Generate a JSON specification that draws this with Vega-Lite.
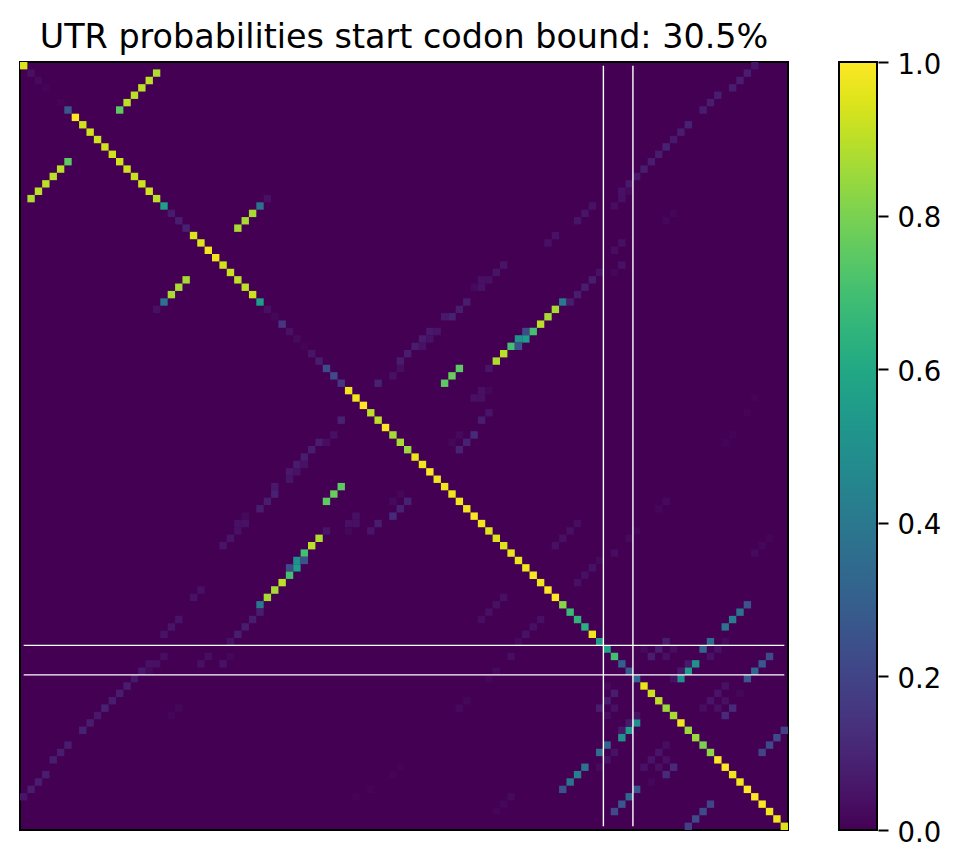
{"$schema":"https://vega.github.io/schema/vega-lite/v6.json","width":768,"height":768,"autosize":"none","padding":{"left":20,"top":62,"right":173,"bottom":37},"background":"white","title":{"text":"UTR probabilities start codon bound: 30.5%","font":"DejaVu Sans","fontSize":33.4,"fontWeight":"normal","color":"black","anchor":"middle","offset":-4},"config":{"view":{"fill":"#440154","stroke":"black","strokeWidth":2}},"datasets":{"cells":[
{"x":0,"y":0,"p":0.95},{"x":1,"y":1,"p":0.04},{"x":2,"y":2,"p":0.022},{"x":3,"y":3,"p":0.007},{"x":5,"y":5,"p":0.007},{"x":6,"y":6,"p":0.27},{"x":7,"y":7,"p":1},{"x":8,"y":8,"p":0.93},{"x":9,"y":9,"p":0.93},{"x":10,"y":10,"p":0.93},{"x":11,"y":11,"p":0.93},{"x":12,"y":12,"p":0.93},{"x":13,"y":13,"p":0.93},{"x":14,"y":14,"p":0.93},{"x":15,"y":15,"p":0.92},{"x":16,"y":16,"p":0.93},{"x":17,"y":17,"p":0.93},{"x":18,"y":18,"p":0.9},{"x":19,"y":19,"p":0.57},{"x":20,"y":20,"p":0.07},{"x":21,"y":21,"p":0.075},{"x":22,"y":22,"p":0.09},{"x":23,"y":23,"p":0.95},{"x":24,"y":24,"p":0.95},{"x":25,"y":25,"p":0.98},{"x":26,"y":26,"p":0.98},{"x":27,"y":27,"p":0.93},{"x":28,"y":28,"p":0.92},{"x":29,"y":29,"p":0.9},{"x":30,"y":30,"p":0.9},{"x":31,"y":31,"p":0.92},{"x":32,"y":32,"p":0.55},{"x":33,"y":33,"p":0.04},{"x":34,"y":34,"p":0.015},{"x":35,"y":35,"p":0.15},{"x":36,"y":36,"p":0.04},{"x":37,"y":37,"p":0.022},{"x":38,"y":38,"p":0.007},{"x":39,"y":39,"p":0.05},{"x":40,"y":40,"p":0.075},{"x":41,"y":41,"p":0.22},{"x":42,"y":42,"p":0.22},{"x":43,"y":43,"p":0.15},{"x":44,"y":44,"p":0.98},{"x":45,"y":45,"p":0.98},{"x":46,"y":46,"p":1},{"x":47,"y":47,"p":0.9},{"x":48,"y":48,"p":0.9},{"x":49,"y":49,"p":1},{"x":50,"y":50,"p":0.87},{"x":51,"y":51,"p":0.87},{"x":52,"y":52,"p":0.85},{"x":53,"y":53,"p":0.97},{"x":54,"y":54,"p":0.98},{"x":55,"y":55,"p":1},{"x":56,"y":56,"p":0.98},{"x":57,"y":57,"p":0.98},{"x":58,"y":58,"p":0.98},{"x":59,"y":59,"p":0.98},{"x":60,"y":60,"p":0.98},{"x":61,"y":61,"p":1},{"x":62,"y":62,"p":0.98},{"x":63,"y":63,"p":0.95},{"x":64,"y":64,"p":0.95},{"x":65,"y":65,"p":0.95},{"x":66,"y":66,"p":0.97},{"x":67,"y":67,"p":0.97},{"x":68,"y":68,"p":0.98},{"x":69,"y":69,"p":0.99},{"x":70,"y":70,"p":0.98},{"x":71,"y":71,"p":1},{"x":72,"y":72,"p":1},{"x":73,"y":73,"p":0.82},{"x":74,"y":74,"p":0.68},{"x":75,"y":75,"p":0.65},{"x":76,"y":76,"p":0.63},{"x":77,"y":77,"p":0.98},{"x":78,"y":78,"p":0.55},{"x":79,"y":79,"p":0.58},{"x":80,"y":80,"p":0.7},{"x":81,"y":81,"p":0.3},{"x":82,"y":82,"p":0.28},{"x":83,"y":83,"p":0.33},{"x":84,"y":84,"p":0.97},{"x":85,"y":85,"p":0.92},{"x":86,"y":86,"p":0.9},{"x":87,"y":87,"p":0.85},{"x":88,"y":88,"p":0.87},{"x":89,"y":89,"p":0.98},{"x":90,"y":90,"p":0.85},{"x":91,"y":91,"p":0.85},{"x":92,"y":92,"p":0.8},{"x":93,"y":93,"p":0.83},{"x":94,"y":94,"p":1},{"x":95,"y":95,"p":1},{"x":96,"y":96,"p":0.98},{"x":97,"y":97,"p":0.98},{"x":98,"y":98,"p":1},{"x":99,"y":99,"p":1},{"x":100,"y":100,"p":1},{"x":101,"y":101,"p":0.98},{"x":102,"y":102,"p":0.98},{"x":103,"y":103,"p":0.95},
{"x":18,"y":1,"p":0.88},{"x":17,"y":2,"p":0.9},{"x":16,"y":3,"p":0.9},{"x":15,"y":4,"p":0.9},{"x":14,"y":5,"p":0.9},{"x":13,"y":6,"p":0.75},{"x":33,"y":18,"p":0.04},{"x":32,"y":19,"p":0.37},{"x":31,"y":20,"p":0.87},{"x":30,"y":21,"p":0.87},{"x":29,"y":22,"p":0.87},{"x":65,"y":27,"p":0.05},{"x":64,"y":28,"p":0.05},{"x":63,"y":29,"p":0.04},{"x":62,"y":29,"p":0.04},{"x":62,"y":30,"p":0.045},{"x":61,"y":30,"p":0.022},{"x":60,"y":32,"p":0.075},{"x":59,"y":33,"p":0.075},{"x":57,"y":34,"p":0.06},{"x":58,"y":34,"p":0.09},{"x":68,"y":36,"p":0.22},{"x":68,"y":37,"p":0.55},{"x":67,"y":37,"p":0.5},{"x":66,"y":38,"p":0.7},{"x":67,"y":38,"p":0.25},{"x":65,"y":39,"p":0.9},{"x":64,"y":40,"p":0.88},{"x":63,"y":41,"p":0.05},{"x":59,"y":41,"p":0.75},{"x":58,"y":42,"p":0.77},{"x":57,"y":43,"p":0.75},{"x":56,"y":36,"p":0.05},{"x":55,"y":36,"p":0.06},{"x":55,"y":37,"p":0.045},{"x":54,"y":37,"p":0.07},{"x":54,"y":38,"p":0.045},{"x":53,"y":38,"p":0.075},{"x":52,"y":39,"p":0.075},{"x":51,"y":40,"p":0.075},{"x":51,"y":41,"p":0.03},{"x":50,"y":42,"p":0.04},{"x":48,"y":43,"p":0.09},{"x":62,"y":44,"p":0.04},{"x":63,"y":44,"p":0.015},{"x":61,"y":45,"p":0.04},{"x":62,"y":45,"p":0.04},{"x":63,"y":47,"p":0.05},{"x":62,"y":48,"p":0.075},{"x":61,"y":50,"p":0.12},{"x":59,"y":50,"p":0.022},{"x":60,"y":51,"p":0.09},{"x":59,"y":52,"p":0.09},{"x":58,"y":51,"p":0.015},{"x":72,"y":33,"p":0.87},{"x":71,"y":34,"p":0.87},{"x":70,"y":35,"p":0.9},{"x":69,"y":36,"p":0.7},{"x":73,"y":32,"p":0.4},{"x":74,"y":32,"p":0.075},{"x":75,"y":31,"p":0.075},{"x":76,"y":30,"p":0.075},{"x":77,"y":29,"p":0.075},{"x":78,"y":28,"p":0.045},{"x":80,"y":28,"p":0.015},{"x":81,"y":27,"p":0.045},{"x":80,"y":25,"p":0.03},{"x":81,"y":24,"p":0.04},{"x":71,"y":24,"p":0.04},{"x":72,"y":23,"p":0.045},{"x":75,"y":21,"p":0.05},{"x":76,"y":20,"p":0.05},{"x":77,"y":19,"p":0.045},{"x":80,"y":19,"p":0.03},{"x":81,"y":18,"p":0.04},{"x":81,"y":17,"p":0.045},{"x":82,"y":17,"p":0.022},{"x":82,"y":16,"p":0.06},{"x":83,"y":15,"p":0.06},{"x":84,"y":14,"p":0.075},{"x":85,"y":13,"p":0.075},{"x":86,"y":12,"p":0.075},{"x":87,"y":11,"p":0.09},{"x":88,"y":10,"p":0.06},{"x":89,"y":9,"p":0.075},{"x":90,"y":8,"p":0.09},{"x":92,"y":6,"p":0.075},{"x":93,"y":5,"p":0.075},{"x":94,"y":4,"p":0.075},{"x":96,"y":3,"p":0.075},{"x":97,"y":2,"p":0.075},{"x":98,"y":1,"p":0.075},{"x":99,"y":0,"p":0.05},{"x":87,"y":21,"p":0.015},{"x":88,"y":20,"p":0.012},{"x":72,"y":65,"p":0.04},{"x":73,"y":64,"p":0.04},{"x":74,"y":63,"p":0.04},{"x":75,"y":62,"p":0.03},{"x":77,"y":68,"p":0.045},{"x":78,"y":67,"p":0.022},{"x":80,"y":66,"p":0.03},{"x":82,"y":64,"p":0.022},{"x":83,"y":63,"p":0.015},{"x":86,"y":60,"p":0.015},{"x":87,"y":59,"p":0.022},{"x":99,"y":66,"p":0.022},{"x":100,"y":65,"p":0.015},{"x":101,"y":64,"p":0.012},{"x":76,"y":69,"p":0.04},{"x":75,"y":70,"p":0.04},{"x":98,"y":47,"p":0.007},{"x":99,"y":45,"p":0.007},{"x":96,"y":50,"p":0.007},{"x":95,"y":51,"p":0.007},{"x":98,"y":73,"p":0.25},{"x":97,"y":74,"p":0.38},{"x":96,"y":75,"p":0.42},{"x":95,"y":76,"p":0.38},{"x":95,"y":78,"p":0.022},{"x":93,"y":78,"p":0.35},{"x":87,"y":78,"p":0.075},{"x":92,"y":79,"p":0.33},{"x":86,"y":79,"p":0.075},{"x":88,"y":79,"p":0.03},{"x":84,"y":79,"p":0.022},{"x":94,"y":79,"p":0.045},{"x":93,"y":80,"p":0.045},{"x":85,"y":80,"p":0.075},{"x":87,"y":80,"p":0.04},{"x":101,"y":80,"p":0.22},{"x":100,"y":81,"p":0.27},{"x":91,"y":81,"p":0.5},{"x":90,"y":81,"p":0.06},{"x":99,"y":82,"p":0.33},{"x":90,"y":82,"p":0.55},{"x":89,"y":82,"p":0.06},{"x":98,"y":83,"p":0.27},{"x":89,"y":83,"p":0.5},{"x":88,"y":83,"p":0.04},{"x":95,"y":84,"p":0.045},{"x":94,"y":85,"p":0.05},{"x":97,"y":85,"p":0.015},{"x":93,"y":86,"p":0.05},{"x":95,"y":86,"p":0.04},{"x":92,"y":87,"p":0.03},{"x":94,"y":87,"p":0.04},{"x":96,"y":87,"p":0.12},{"x":95,"y":88,"p":0.12},{"x":103,"y":90,"p":0.18},{"x":102,"y":91,"p":0.22},{"x":101,"y":92,"p":0.22},{"x":100,"y":93,"p":0.2},
{"y":18,"x":1,"p":0.88},{"y":17,"x":2,"p":0.9},{"y":16,"x":3,"p":0.9},{"y":15,"x":4,"p":0.9},{"y":14,"x":5,"p":0.9},{"y":13,"x":6,"p":0.75},{"y":33,"x":18,"p":0.04},{"y":32,"x":19,"p":0.37},{"y":31,"x":20,"p":0.87},{"y":30,"x":21,"p":0.87},{"y":29,"x":22,"p":0.87},{"y":65,"x":27,"p":0.05},{"y":64,"x":28,"p":0.05},{"y":63,"x":29,"p":0.04},{"y":62,"x":29,"p":0.04},{"y":62,"x":30,"p":0.045},{"y":61,"x":30,"p":0.022},{"y":60,"x":32,"p":0.075},{"y":59,"x":33,"p":0.075},{"y":57,"x":34,"p":0.06},{"y":58,"x":34,"p":0.09},{"y":68,"x":36,"p":0.22},{"y":68,"x":37,"p":0.55},{"y":67,"x":37,"p":0.5},{"y":66,"x":38,"p":0.7},{"y":67,"x":38,"p":0.25},{"y":65,"x":39,"p":0.9},{"y":64,"x":40,"p":0.88},{"y":63,"x":41,"p":0.05},{"y":59,"x":41,"p":0.75},{"y":58,"x":42,"p":0.77},{"y":57,"x":43,"p":0.75},{"y":56,"x":36,"p":0.05},{"y":55,"x":36,"p":0.06},{"y":55,"x":37,"p":0.045},{"y":54,"x":37,"p":0.07},{"y":54,"x":38,"p":0.045},{"y":53,"x":38,"p":0.075},{"y":52,"x":39,"p":0.075},{"y":51,"x":40,"p":0.075},{"y":51,"x":41,"p":0.03},{"y":50,"x":42,"p":0.04},{"y":48,"x":43,"p":0.09},{"y":62,"x":44,"p":0.04},{"y":63,"x":44,"p":0.015},{"y":61,"x":45,"p":0.04},{"y":62,"x":45,"p":0.04},{"y":63,"x":47,"p":0.05},{"y":62,"x":48,"p":0.075},{"y":61,"x":50,"p":0.12},{"y":59,"x":50,"p":0.022},{"y":60,"x":51,"p":0.09},{"y":59,"x":52,"p":0.09},{"y":58,"x":51,"p":0.015},{"y":72,"x":33,"p":0.87},{"y":71,"x":34,"p":0.87},{"y":70,"x":35,"p":0.9},{"y":69,"x":36,"p":0.7},{"y":73,"x":32,"p":0.4},{"y":74,"x":32,"p":0.075},{"y":75,"x":31,"p":0.075},{"y":76,"x":30,"p":0.075},{"y":77,"x":29,"p":0.075},{"y":78,"x":28,"p":0.045},{"y":80,"x":28,"p":0.015},{"y":81,"x":27,"p":0.045},{"y":80,"x":25,"p":0.03},{"y":81,"x":24,"p":0.04},{"y":71,"x":24,"p":0.04},{"y":72,"x":23,"p":0.045},{"y":75,"x":21,"p":0.05},{"y":76,"x":20,"p":0.05},{"y":77,"x":19,"p":0.045},{"y":80,"x":19,"p":0.03},{"y":81,"x":18,"p":0.04},{"y":81,"x":17,"p":0.045},{"y":82,"x":17,"p":0.022},{"y":82,"x":16,"p":0.06},{"y":83,"x":15,"p":0.06},{"y":84,"x":14,"p":0.075},{"y":85,"x":13,"p":0.075},{"y":86,"x":12,"p":0.075},{"y":87,"x":11,"p":0.09},{"y":88,"x":10,"p":0.06},{"y":89,"x":9,"p":0.075},{"y":90,"x":8,"p":0.09},{"y":92,"x":6,"p":0.075},{"y":93,"x":5,"p":0.075},{"y":94,"x":4,"p":0.075},{"y":96,"x":3,"p":0.075},{"y":97,"x":2,"p":0.075},{"y":98,"x":1,"p":0.075},{"y":99,"x":0,"p":0.05},{"y":87,"x":21,"p":0.015},{"y":88,"x":20,"p":0.012},{"y":72,"x":65,"p":0.04},{"y":73,"x":64,"p":0.04},{"y":74,"x":63,"p":0.04},{"y":75,"x":62,"p":0.03},{"y":77,"x":68,"p":0.045},{"y":78,"x":67,"p":0.022},{"y":80,"x":66,"p":0.03},{"y":82,"x":64,"p":0.022},{"y":83,"x":63,"p":0.015},{"y":86,"x":60,"p":0.015},{"y":87,"x":59,"p":0.022},{"y":99,"x":66,"p":0.022},{"y":100,"x":65,"p":0.015},{"y":101,"x":64,"p":0.012},{"y":76,"x":69,"p":0.04},{"y":75,"x":70,"p":0.04},{"y":98,"x":47,"p":0.007},{"y":99,"x":45,"p":0.007},{"y":96,"x":50,"p":0.007},{"y":95,"x":51,"p":0.007},{"y":98,"x":73,"p":0.25},{"y":97,"x":74,"p":0.38},{"y":96,"x":75,"p":0.42},{"y":95,"x":76,"p":0.38},{"y":95,"x":78,"p":0.022},{"y":93,"x":78,"p":0.35},{"y":87,"x":78,"p":0.075},{"y":92,"x":79,"p":0.33},{"y":86,"x":79,"p":0.075},{"y":88,"x":79,"p":0.03},{"y":84,"x":79,"p":0.022},{"y":94,"x":79,"p":0.045},{"y":93,"x":80,"p":0.045},{"y":85,"x":80,"p":0.075},{"y":87,"x":80,"p":0.04},{"y":101,"x":80,"p":0.22},{"y":100,"x":81,"p":0.27},{"y":91,"x":81,"p":0.5},{"y":90,"x":81,"p":0.06},{"y":99,"x":82,"p":0.33},{"y":90,"x":82,"p":0.55},{"y":89,"x":82,"p":0.06},{"y":98,"x":83,"p":0.27},{"y":89,"x":83,"p":0.5},{"y":88,"x":83,"p":0.04},{"y":95,"x":84,"p":0.045},{"y":94,"x":85,"p":0.05},{"y":97,"x":85,"p":0.015},{"y":93,"x":86,"p":0.05},{"y":95,"x":86,"p":0.04},{"y":92,"x":87,"p":0.03},{"y":94,"x":87,"p":0.04},{"y":96,"x":87,"p":0.12},{"y":95,"x":88,"p":0.12},{"y":103,"x":90,"p":0.18},{"y":102,"x":91,"p":0.22},{"y":101,"x":92,"p":0.22},{"y":100,"x":93,"p":0.2}
],"codon":[{"pos":78.5,"from":0,"to":103},{"pos":82.5,"from":0,"to":103}],"ticks":[{"v":0},{"v":0.2},{"v":0.4},{"v":0.6},{"v":0.8},{"v":1}]},
"layer":[
{"data":{"name":"cells"},"mark":{"type":"rect","strokeWidth":0},"encoding":{
"x":{"field":"x","type":"ordinal","axis":null,"scale":{"type":"band","paddingInner":0,"paddingOuter":0,"domain":[0,1,2,3,4,5,6,7,8,9,10,11,12,13,14,15,16,17,18,19,20,21,22,23,24,25,26,27,28,29,30,31,32,33,34,35,36,37,38,39,40,41,42,43,44,45,46,47,48,49,50,51,52,53,54,55,56,57,58,59,60,61,62,63,64,65,66,67,68,69,70,71,72,73,74,75,76,77,78,79,80,81,82,83,84,85,86,87,88,89,90,91,92,93,94,95,96,97,98,99,100,101,102,103]}},
"y":{"field":"y","type":"ordinal","axis":null,"scale":{"type":"band","paddingInner":0,"paddingOuter":0,"domain":[0,1,2,3,4,5,6,7,8,9,10,11,12,13,14,15,16,17,18,19,20,21,22,23,24,25,26,27,28,29,30,31,32,33,34,35,36,37,38,39,40,41,42,43,44,45,46,47,48,49,50,51,52,53,54,55,56,57,58,59,60,61,62,63,64,65,66,67,68,69,70,71,72,73,74,75,76,77,78,79,80,81,82,83,84,85,86,87,88,89,90,91,92,93,94,95,96,97,98,99,100,101,102,103]}},
"color":{"field":"p","type":"quantitative","scale":{"scheme":"viridis","domain":[0,1]},"legend":{"orient":"none","legendX":819,"legendY":0,"direction":"vertical","gradientLength":768,"gradientThickness":38,"title":null,"labelOpacity":0,"labelFontSize":1,"padding":0,"gradientStrokeColor":"black","gradientStrokeWidth":2,"values":[0,1]}}}},
{"data":{"name":"codon"},"mark":{"type":"rule","color":"white","strokeWidth":1.4},"encoding":{
"x":{"field":"pos","type":"quantitative","axis":null,"scale":{"domain":[-0.5,103.5],"nice":false,"zero":false}},
"y":{"field":"from","type":"quantitative","axis":null,"scale":{"domain":[103.5,-0.5],"nice":false,"zero":false}},"y2":{"field":"to"}}},
{"data":{"name":"codon"},"mark":{"type":"rule","color":"white","strokeWidth":1.4},"encoding":{
"y":{"field":"pos","type":"quantitative","axis":null,"scale":{"domain":[103.5,-0.5],"nice":false,"zero":false}},
"x":{"field":"from","type":"quantitative","axis":null,"scale":{"domain":[-0.5,103.5],"nice":false,"zero":false}},"x2":{"field":"to"}}},
{"data":{"name":"ticks"},"mark":{"type":"rule","opacity":0},"encoding":{
"y":{"field":"v","type":"quantitative","scale":{"domain":[0,1],"nice":false},"axis":{"orient":"right","offset":90,"values":[0,0.2,0.4,0.6,0.8,1],"format":".1f","title":null,"domain":false,"grid":false,"ticks":true,"tickSize":10,"tickWidth":2,"tickColor":"black","labelColor":"black","labelFont":"DejaVu Sans","labelFontSize":27.5,"labelPadding":9,"labelOffset":3,"labelOverlap":false,"labelBound":false,"labelFlush":false}}}}
],
"resolve":{"scale":{"x":"independent","y":"independent"},"axis":{"x":"independent","y":"independent"}}}
